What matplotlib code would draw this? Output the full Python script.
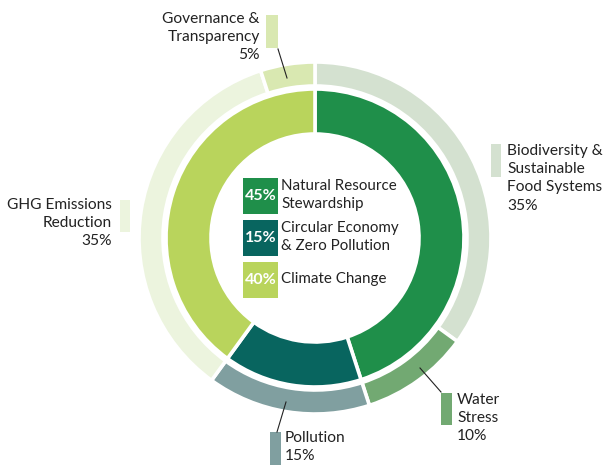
import matplotlib
matplotlib.use("Agg")
import matplotlib.pyplot as plt
from matplotlib.patches import Rectangle

plt.rcParams['font.family'] = ['Lato', 'DejaVu Sans']

inner_labels = ["Natural Resource\nStewardship", "Circular Economy\n& Zero Pollution", "Climate Change"]
inner_values = [45, 15, 40]
inner_colors = ["#1f8f4a", "#08655f", "#b9d45c"]

outer_labels = ["Biodiversity &\nSustainable\nFood Systems", "Water\nStress", "Pollution",
                "GHG Emissions\nReduction", "Governance &\nTransparency"]
outer_values = [35, 10, 15, 35, 5]
outer_colors = ["#d4e1d0", "#72a972", "#809fa0", "#ecf4de", "#d9e8b1"]

W, H = 606, 467
fig = plt.figure(figsize=(W / 100, H / 100), dpi=100)
ax = fig.add_axes([0, 0, 1, 1])

cx, cy = 315, H - 238

ax.pie(outer_values, colors=outer_colors, radius=176, center=(cx, cy), startangle=90,
       counterclock=False, frame=True,
       wedgeprops=dict(width=24, edgecolor="white", linewidth=2.6))
ax.pie(inner_values, colors=inner_colors, radius=149, center=(cx, cy), startangle=90,
       counterclock=False, frame=True,
       wedgeprops=dict(width=45, edgecolor="white", linewidth=2.6))

ax.set_xlim(0, W)
ax.set_ylim(0, H)
ax.set_aspect("equal")
ax.axis("off")

# center legend
box_y = [178, 220, 262]
for i, (lab, v, c) in enumerate(zip(inner_labels, inner_values, inner_colors)):
    y0 = box_y[i]
    ax.add_patch(Rectangle((243, H - y0 - 36), 35, 36, color=c, lw=0))
    ax.text(260.5, H - y0 - 18, f"{v}%", color="white", fontsize=11.5, fontweight="bold",
            ha="center", va="center")
    ax.text(281, H - y0 - 17, lab, color="#222222", fontsize=10.9, ha="left", va="center",
            linespacing=1.4)

txt = "#222222"
fs = 11.2
specs = [
    dict(bar=(491, 144, 501, 177), tx=507, ty=144, ha="left",
         lead=None),
    dict(bar=(441, 393, 452, 425), tx=457, ty=393, ha="left",
         lead=((420, 368), (441, 392))),
    dict(bar=(270, 432, 281, 465), tx=285, ty=431, ha="left",
         lead=((286, 402), (277, 432))),
    dict(bar=(120, 200, 130, 232), tx=112, ty=198, ha="right",
         lead=None),
    dict(bar=(266, 15, 278, 48), tx=260, ty=12, ha="right",
         lead=((278, 49), (287, 78))),
]
for lab, v, c, s in zip(outer_labels, outer_values, outer_colors, specs):
    x0, y0, x1, y1 = s["bar"]
    ax.add_patch(Rectangle((x0, H - y1), x1 - x0, y1 - y0, color=c, lw=0))
    ax.text(s["tx"], H - s["ty"], f"{lab}\n{v}%", color=txt, fontsize=fs,
            ha=s["ha"], va="top", multialignment=s["ha"], linespacing=1.38)
    if s["lead"]:
        (a, b), (c2, d) = s["lead"]
        ax.plot([a, c2], [H - b, H - d], color="#222222", lw=0.8)

fig.savefig("out.png", dpi=100)
